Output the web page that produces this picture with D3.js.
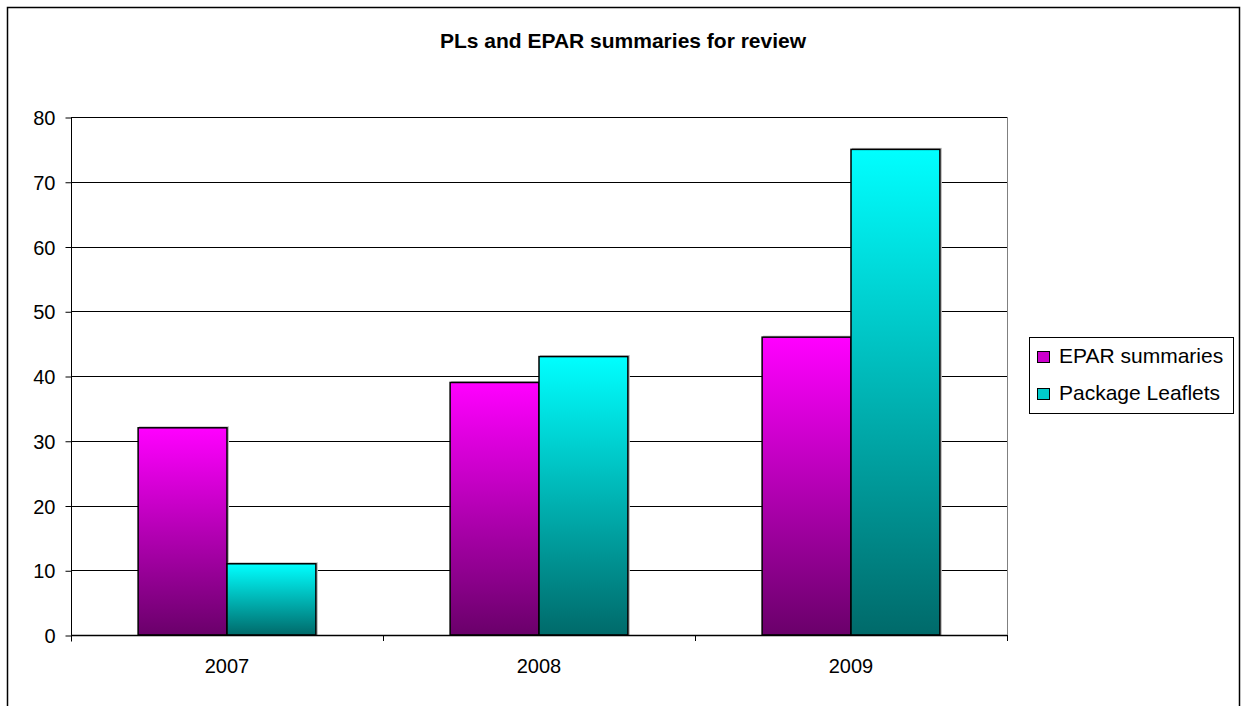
<!DOCTYPE html>
<html>
<head>
<meta charset="utf-8">
<script src="https://cdn.jsdelivr.net/npm/d3@7"></script>
<style>
    body { margin: 0; background: #fff; }
    svg text { font-family: "Liberation Sans", Arial, sans-serif; fill: #000; }
</style>
</head>
<body>
<div id="chart"></div>
<script>
var years = ['2007', '2008', '2009'];
var seriesNames = ['EPAR summaries', 'Package Leaflets'];
var eparSummaries = [32, 39, 46];
var packageLeaflets = [11, 43, 75];
var yTicks = [0, 10, 20, 30, 40, 50, 60, 70, 80];

var W = 1241, H = 706;
var plot = { left: 71, top: 117, right: 1007, bottom: 635 };

var svg = d3.select('#chart').append('svg')
    .attr('width', W)
    .attr('height', H);

// gradients, one per series
var defs = svg.append('defs');
var gradients = [
    { id: 'gEpar', top: '#ff00ff', bottom: '#6a006a', swatch: '#cc00cc' },
    { id: 'gPl', top: '#00ffff', bottom: '#006a6a', swatch: '#00cccc' },
];
gradients.forEach(g => {
    var lg = defs.append('linearGradient')
        .attr('id', g.id)
        .attr('x1', 0).attr('y1', 0)
        .attr('x2', 0).attr('y2', 1);
    lg.append('stop').attr('offset', '0%').attr('stop-color', g.top);
    lg.append('stop').attr('offset', '100%').attr('stop-color', g.bottom);
});

// outer frame (top, left, right)
svg.append('path')
    .attr('d', `M7.5,${H} V7.5 H1239.5 V${H}`)
    .attr('fill', 'none')
    .attr('stroke', '#000')
    .attr('stroke-width', 1.5);

svg.append('text')
    .attr('x', 623)
    .attr('y', 47.5)
    .attr('text-anchor', 'middle')
    .style('font-size', '21px')
    .style('font-weight', 'bold')
    .text('PLs and EPAR summaries for review');

var x = d3.scaleBand()
    .domain(years)
    .range([plot.left, plot.right]);

var inner = d3.scaleBand()
    .domain(seriesNames)
    .range([0, x.bandwidth()])
    .paddingInner(0)
    .paddingOuter(0.755);

var y = d3.scaleLinear()
    .domain([0, 80])
    .range([plot.bottom, plot.top]);

// gridlines
svg.append('g')
    .selectAll('line')
    .data(yTicks)
    .enter()
    .append('line')
    .attr('x1', plot.left)
    .attr('x2', plot.right)
    .attr('y1', d => Math.round(y(d)) + 0.5)
    .attr('y2', d => Math.round(y(d)) + 0.5)
    .attr('stroke', '#000')
    .attr('stroke-width', 1);

// plot area right border
svg.append('line')
    .attr('x1', plot.right + 0.5).attr('x2', plot.right + 0.5)
    .attr('y1', plot.top).attr('y2', plot.bottom + 6)
    .attr('stroke', '#808080');

// bars
var groups = svg.append('g')
    .selectAll('g')
    .data(years.map((yr, i) => ({ year: yr, values: [eparSummaries[i], packageLeaflets[i]] })))
    .enter()
    .append('g')
    .attr('transform', d => `translate(${x(d.year)},0)`);

var bars = groups.selectAll('g.bar')
    .data(d => d.values.map((v, j) => ({ name: seriesNames[j], value: v, j: j })))
    .enter()
    .append('g')
    .attr('class', 'bar');

// light grey halo on top and right
bars.append('rect')
    .attr('x', d => inner(d.name) + 1)
    .attr('y', d => y(d.value) - 1.5)
    .attr('width', inner.bandwidth() + 1)
    .attr('height', d => y(0) - y(d.value) + 2.5)
    .attr('fill', '#c0c0c0');

bars.append('rect')
    .attr('x', d => inner(d.name))
    .attr('y', d => y(d.value))
    .attr('width', inner.bandwidth())
    .attr('height', d => y(0) - y(d.value))
    .attr('fill', d => `url(#${gradients[d.j].id})`)
    .attr('stroke', '#000')
    .attr('stroke-width', 1.5);

// y axis
var yAxis = svg.append('g')
    .attr('transform', `translate(${plot.left + 0.5},0.5)`)
    .call(d3.axisLeft(y).tickValues(yTicks).tickSize(6).tickPadding(10).tickSizeOuter(0));
yAxis.select('.domain')
    .attr('stroke', '#000')
    .attr('d', `M0,${plot.top} V${plot.bottom + 6}`);
yAxis.selectAll('text').style('font-size', '20px').attr('dy', '0.36em');

// x axis
svg.append('line')
    .attr('x1', plot.left).attr('x2', plot.right)
    .attr('y1', plot.bottom + 0.5).attr('y2', plot.bottom + 0.5)
    .attr('stroke', '#000').attr('stroke-width', 1.5);

svg.append('g')
    .selectAll('line')
    .data(years.concat(['end']))
    .enter()
    .append('line')
    .attr('x1', (d, i) => Math.round(plot.left + i * x.step()) + 0.5)
    .attr('x2', (d, i) => Math.round(plot.left + i * x.step()) + 0.5)
    .attr('y1', plot.bottom)
    .attr('y2', plot.bottom + 6)
    .attr('stroke', '#000');

svg.append('g')
    .selectAll('text')
    .data(years)
    .enter()
    .append('text')
    .attr('x', d => x(d) + x.bandwidth() / 2)
    .attr('y', plot.bottom + 38)
    .attr('text-anchor', 'middle')
    .style('font-size', '20px')
    .text(d => d);

// legend
var legend = svg.append('g').attr('transform', 'translate(1029,337)');
legend.append('rect')
    .attr('x', 0.5).attr('y', 0.5)
    .attr('width', 204).attr('height', 76)
    .attr('fill', '#fff')
    .attr('stroke', '#000');

var items = legend.selectAll('g.item')
    .data(seriesNames)
    .enter()
    .append('g')
    .attr('class', 'item')
    .attr('transform', (d, i) => `translate(8,${14 + i * 37})`);

items.append('rect')
    .attr('x', 0.5).attr('y', 0.5)
    .attr('width', 12).attr('height', 11)
    .attr('fill', (d, i) => gradients[i].swatch)
    .attr('stroke', '#000');

items.append('text')
    .attr('x', 22)
    .attr('y', 12)
    .style('font-size', '21px')
    .text(d => d);
</script>
</body>
</html>
